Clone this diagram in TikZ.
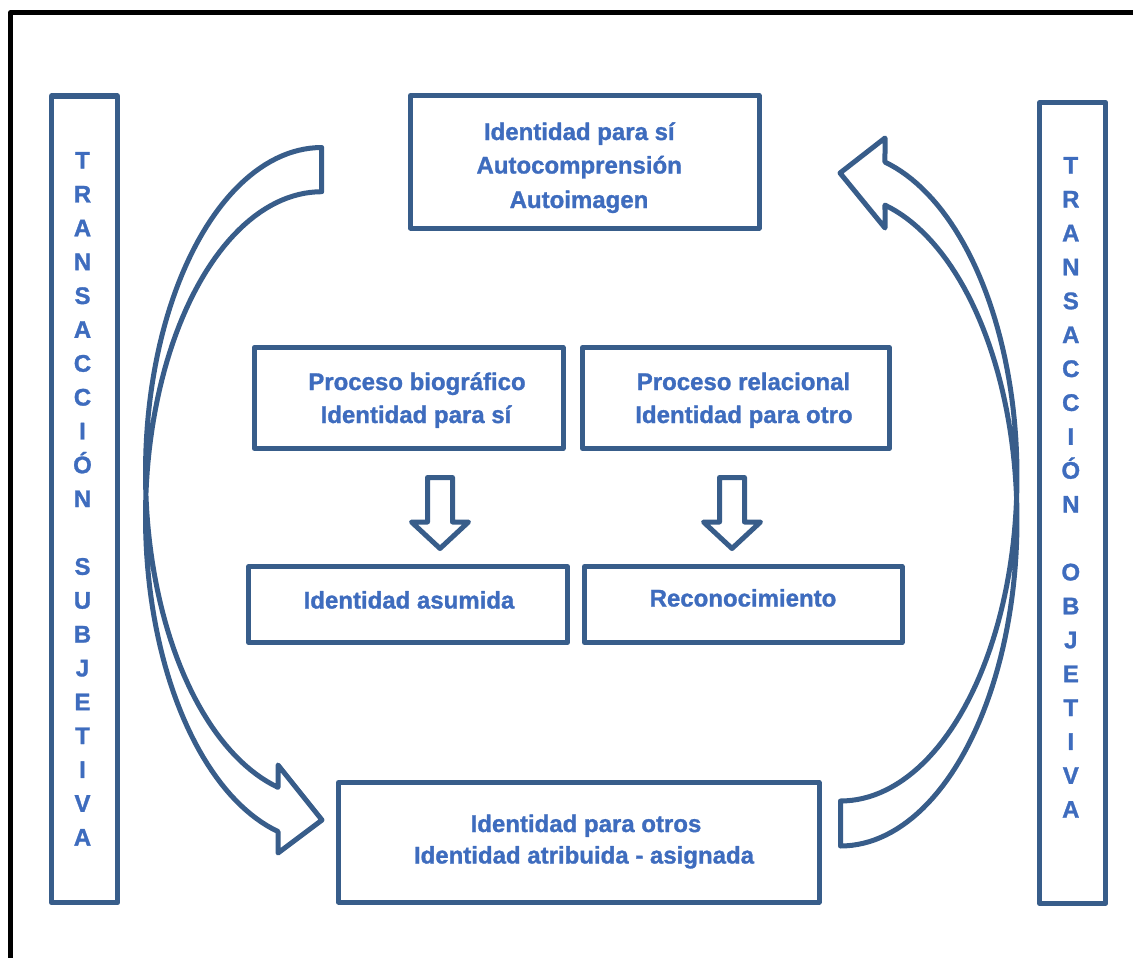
\documentclass[tikz,border=0pt]{standalone}
\usepackage{fontspec}
\setmainfont{Liberation Sans}[BoldFeatures={FakeBold=1.2}]
\definecolor{frameblue}{HTML}{385D8A}
\definecolor{textblue}{HTML}{3E6CBE}
\begin{document}
\begin{tikzpicture}[x=1pt,y=-1pt,line join=round,
  panel/.style={draw=frameblue,line width=5pt,fill=white,inner sep=0pt,outer sep=0pt},
  caption/.style={text=textblue,font=\bfseries\fontsize{24}{29}\selectfont,anchor=base,inner sep=0pt},
  letter/.style={caption},
  blockarrow/.style={draw=frameblue,line width=5pt,fill=white}]
\useasboundingbox (0,0) rectangle (1133,958);

% outer frame (open on the right and at the bottom)
\draw[line width=5pt,black] (10.8,970) -- (10.8,12.5) -- (1145,12.5);

% side columns
\node[panel,minimum width=66pt,minimum height=806.8pt] (subj) at (84.5,499.4) {};
\node[panel,minimum width=66pt,minimum height=800.8pt] (obj) at (1072.7,502.9) {};

% boxes
\node[panel,minimum width=348.5pt,minimum height=132.5pt] (self) at (584.75,161.75) {};
\node[panel,minimum width=308.7pt,minimum height=101pt] (bio) at (408.65,398) {};
\node[panel,minimum width=306.8pt,minimum height=101pt] (rel) at (735.9,398) {};
\node[panel,minimum width=318.4pt,minimum height=76pt] (asum) at (408,604.5) {};
\node[panel,minimum width=317.5pt,minimum height=76pt] (recon) at (743.25,604.5) {};
\node[panel,minimum width=480.5pt,minimum height=119.5pt] (others) at (578.75,842.25) {};

% box texts
\node[caption] (self-1) at (579.3,140) {Identidad para sí};
\node[caption] (self-2) at (579.2,173.5) {Autocomprensión};
\node[caption] (self-3) at (579,208) {Autoimagen};
\node[caption] (bio-1) at (417,390) {Proceso biográfico};
\node[caption] (bio-2) at (416,423) {Identidad para sí};
\node[caption] (rel-1) at (743.5,390) {Proceso relacional};
\node[caption] (rel-2) at (744,423) {Identidad para otro};
\node[caption] (asum-1) at (409,608.5) {Identidad asumida};
\node[caption] (recon-1) at (743,606.5) {Reconocimiento};
\node[caption] (others-1) at (586,832) {Identidad para otros};
\node[caption] (others-2) at (584,863.5) {Identidad atribuida - asignada};

% vertical lettering
\foreach \i/\c in {0/T,1/R,2/A,3/N,4/S,5/A,6/C,7/C,8/I,9/Ó,10/N,12/S,13/U,14/B,15/J,16/E,17/T,18/I,19/V,20/A}
  \node[letter] (subj-\i) at (82.5,{168.6+33.85*\i}) {\c};
\foreach \i/\c in {0/T,1/R,2/A,3/N,4/S,5/A,6/C,7/C,8/I,9/Ó,10/N,12/O,13/B,14/J,15/E,16/T,17/I,18/V,19/A}
  \node[letter] (obj-\i) at (1070.8,{173.6+33.9*\i}) {\c};

% down block arrows
\foreach \cx in {440,732}
  \draw[blockarrow] ({\cx-12.5},477.5) -- ({\cx+12.5},477.5) -- ({\cx+12.5},522)
    -- ({\cx+28.5},522) -- (\cx,548.5) -- ({\cx-28.5},522) -- ({\cx-12.5},522) -- cycle;

% curved arrow on the left, pointing to the lower box
\draw[blockarrow] (321.7,147.5)
  -- plot[domain=270:104.36,samples=90] ({321.7+176.2*cos(\x)},{472.5+325*sin(\x)})
  -- (278,765) -- (322,820) -- (278,853)
  -- plot[domain=104.36:270,samples=90] ({321.7+176.2*cos(\x)},{516.7+325*sin(\x)})
  -- cycle;

% curved arrow on the right, pointing to the upper box
\draw[blockarrow] (840.5,846)
  -- plot[domain=90:-75.4,samples=90] ({840.5+176.5*cos(\x)},{520.3+325.7*sin(\x)})
  -- (885,228) -- (840,173) -- (885,138)
  -- plot[domain=-75.4:90,samples=90] ({840.5+176.5*cos(\x)},{476.3+324.7*sin(\x)})
  -- cycle;
\end{tikzpicture}
\end{document}
